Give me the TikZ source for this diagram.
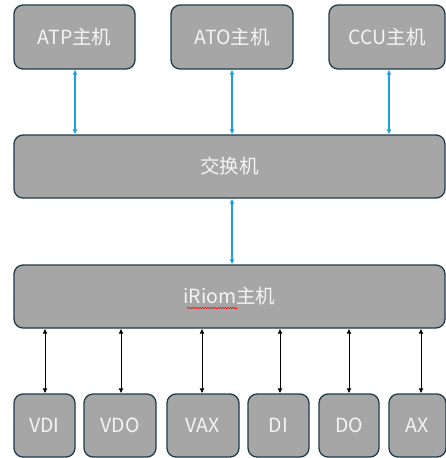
\documentclass[tikz,border=0pt]{standalone}
\usepackage{fontspec}
\setmainfont{Noto Sans CJK SC}
\usetikzlibrary{arrows.meta,decorations.pathmorphing}
\definecolor{boxfill}{HTML}{A6A6A6}
\definecolor{boxline}{HTML}{1F3B4A}
\definecolor{txt}{HTML}{F4F4F4}
\definecolor{lnk}{HTML}{1BA1E2}
\tikzset{
  unit/.style={draw=boxline, line width=1.3pt, fill=boxfill, rounded corners=9pt,
    text=txt, font=\fontsize{19.5}{21}\selectfont, inner sep=0pt},
  bluelink/.style={draw=lnk, line width=1.1pt, {Latex[length=5pt,width=5pt]}-{Latex[length=5pt,width=5pt]}},
  blacklink/.style={draw=black, line width=1pt, {Latex[length=5pt,width=5pt]}-{Latex[length=5pt,width=5pt]}},
}
\begin{document}
\begin{tikzpicture}[x=1pt,y=-1pt]
\useasboundingbox (0,0) rectangle (446,458);
% top row
\node[unit, minimum width=121pt, minimum height=64pt] (atp) at (74.5,37) {ATP主机};
\node[unit, minimum width=122pt, minimum height=64pt] (ato) at (232,37) {ATO主机};
\node[unit, minimum width=116pt, minimum height=64pt] (ccu) at (387,37) {CCU主机};
% switch
\node[unit, minimum width=431pt, minimum height=63pt] (sw) at (229.5,166.5) {交换机};
% iRiom
\node[unit, minimum width=431pt, minimum height=63pt] (iriom) at (229.5,296.5) {iRiom主机};
\draw[red, line width=0.5pt, decorate, decoration={snake, amplitude=0.7pt, segment length=2.5pt}]
  (187,308) -- (238,308);
% bottom row
\node[unit, minimum width=61pt, minimum height=63pt] (vdi) at (44.5,425.5) {VDI};
\node[unit, minimum width=72pt, minimum height=63pt] (vdo) at (120,425.5) {VDO};
\node[unit, minimum width=72pt, minimum height=63pt] (vax) at (203,425.5) {VAX};
\node[unit, minimum width=61pt, minimum height=63pt] (di) at (278.5,425.5) {DI};
\node[unit, minimum width=60pt, minimum height=63pt] (do) at (349,425.5) {DO};
\node[unit, minimum width=57pt, minimum height=63pt] (ax) at (417.5,425.5) {AX};
% blue links
\draw[bluelink] (atp.south -| 75,0) -- (sw.north -| 75,0);
\draw[bluelink] (ato.south -| 232,0) -- (sw.north -| 232,0);
\draw[bluelink] (ccu.south -| 389,0) -- (sw.north -| 389,0);
\draw[bluelink] (sw.south -| 232,0) -- (iriom.north -| 232,0);
% black links
\draw[blacklink] (iriom.south -| 45,0) -- (vdi.north -| 45,0);
\draw[blacklink] (iriom.south -| 121,0) -- (vdo.north -| 121,0);
\draw[blacklink] (iriom.south -| 202,0) -- (vax.north -| 202,0);
\draw[blacklink] (iriom.south -| 280,0) -- (di.north -| 280,0);
\draw[blacklink] (iriom.south -| 349,0) -- (do.north -| 349,0);
\draw[blacklink] (iriom.south -| 421,0) -- (ax.north -| 421,0);
\end{tikzpicture}
\end{document}
